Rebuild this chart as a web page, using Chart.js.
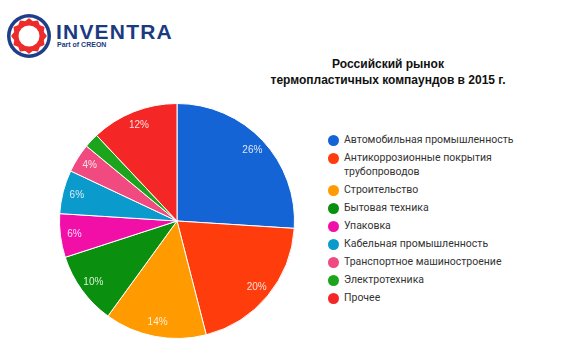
<!DOCTYPE html>
<html>
<head>
<meta charset="utf-8">
<script src="https://cdn.jsdelivr.net/npm/chart.js@4"></script>
<style>
  html, body { margin: 0; padding: 0; background: #fff; }
  #page { position: relative; width: 580px; height: 347px; overflow: hidden; font-family: "Liberation Sans", Arial, sans-serif; }
  #logo { position: absolute; left: 6px; top: 13px; }
  #brand { position: absolute; left: 56px; top: 20px; color: #1b3a82; font-weight: bold; font-size: 21px; letter-spacing: 1.2px; line-height: 24px; }
  #brand small { display: block; font-size: 7px; line-height: 8px; letter-spacing: 0; margin-top: -3px; margin-left: 1px; }
  #title { position: absolute; left: 260px; width: 256px; top: 56px; text-align: center; font-weight: bold; font-size: 12px; line-height: 16px; color: #111; }
  #pie { position: absolute; left: 59px; top: 103px; }
  #legend { position: absolute; left: 328px; top: 133px; list-style: none; margin: 0; padding: 0; font-family: Roboto, Arial, sans-serif; font-size: 10.5px; color: #333; }
  #legend li { position: relative; padding-left: 16px; line-height: 14px; margin-bottom: 4px; }
  #legend li span.dot { position: absolute; left: 0; top: 1.5px; width: 11px; height: 11px; border-radius: 50%; }
</style>
</head>
<body>
<div id="page">
  <svg id="logo" width="46" height="46" viewBox="0 0 46 46">
    <circle cx="23" cy="23" r="22" fill="#1d3f8a"/>
    <circle cx="23" cy="23" r="18.5" fill="#fff"/>
    <polygon id="gear" fill="#ee2b2b" stroke="#ee2b2b" stroke-width="1.5" stroke-linejoin="round"/>
    <circle cx="23" cy="23" r="10.5" fill="#fff"/>
  </svg>
  <div id="brand">INVENTRA<small>Part of CREON</small></div>
  <div id="title">Российский рынок<br>термопластичных компаундов в 2015 г.</div>
  <canvas id="pie" width="236" height="236"></canvas>
  <ul id="legend"></ul>
</div>
<script>
// market share by segment, %
const segments = [
  'Автомобильная промышленность',
  'Антикоррозионные покрытия трубопроводов',
  'Строительство',
  'Бытовая техника',
  'Упаковка',
  'Кабельная промышленность',
  'Транспортное машиностроение',
  'Электротехника',
  'Прочее'
];
const shares = [26, 20, 14, 10, 6, 6, 4, 2, 12];
const colors = ['#1464d6', '#ff3c0c', '#ff9a00', '#0a900e', '#f20fa8', '#0a9acb', '#f04a80', '#1ca51c', '#f52626'];

// gear shape for the logo
(function () {
  const pts = [];
  const n = 12;
  for (let i = 0; i < n * 2; i++) {
    const a = i * Math.PI / n - Math.PI / 2;
    const r = i % 2 === 0 ? 17 : 14.5;
    pts.push((23 + r * Math.cos(a)).toFixed(2) + ',' + (23 + r * Math.sin(a)).toFixed(2));
  }
  document.getElementById('gear').setAttribute('points', pts.join(' '));
})();

// legend
const legend = document.getElementById('legend');
segments.forEach((name, i) => {
  const li = document.createElement('li');
  const dot = document.createElement('span');
  dot.className = 'dot';
  dot.style.background = colors[i];
  li.appendChild(dot);
  li.appendChild(document.createTextNode(i === 1 ? 'Антикоррозионные покрытия' : name));
  if (i === 1) {
    li.appendChild(document.createElement('br'));
    li.appendChild(document.createTextNode('трубопроводов'));
  }
  legend.appendChild(li);
});

// percent labels inside the slices
const sliceLabels = {
  id: 'sliceLabels',
  afterDatasetsDraw(chart) {
    const ctx = chart.ctx;
    const meta = chart.getDatasetMeta(0);
    ctx.save();
    ctx.font = '10px "Liberation Sans", Arial, sans-serif';
    ctx.fillStyle = 'rgba(255,255,255,0.85)';
    ctx.textAlign = 'center';
    ctx.textBaseline = 'middle';
    meta.data.forEach((arc, i) => {
      const v = shares[i];
      if (v < 3) return;
      const p = arc.getProps(['x', 'y', 'startAngle', 'endAngle', 'outerRadius'], true);
      const mid = (p.startAngle + p.endAngle) / 2;
      const r = p.outerRadius * 0.88;
      ctx.fillText(v + '%', p.x + Math.cos(mid) * r, p.y + Math.sin(mid) * r);
    });
    ctx.restore();
  }
};

new Chart(document.getElementById('pie').getContext('2d'), {
  type: 'pie',
  data: {
    labels: segments,
    datasets: [{
      data: shares,
      backgroundColor: colors,
      borderColor: '#ffffff',
      borderWidth: 1
    }]
  },
  options: {
    responsive: false,
    animation: false,
    layout: { padding: 0 },
    plugins: {
      legend: { display: false },
      tooltip: { enabled: false }
    }
  },
  plugins: [sliceLabels]
});
</script>
</body>
</html>
